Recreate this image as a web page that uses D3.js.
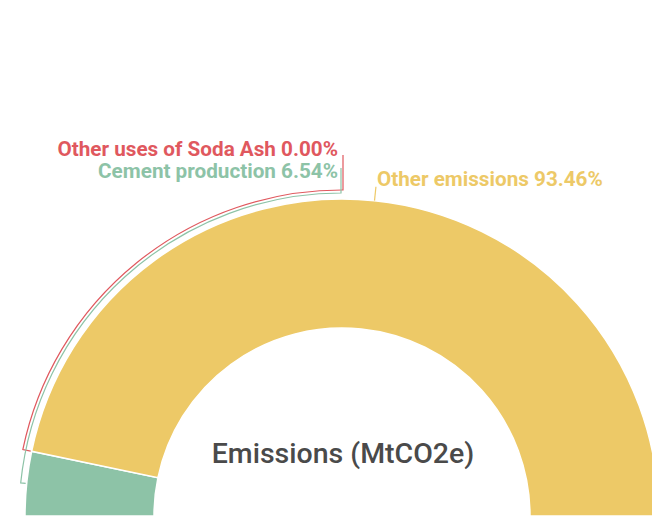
<!DOCTYPE html>
<html>
<head>
<meta charset="utf-8">
<script src="https://cdn.jsdelivr.net/npm/d3@7"></script>
<style>
  html, body { margin: 0; padding: 0; background: #ffffff; }
  svg { display: block; }
  text { font-family: Roboto, "Noto Sans", sans-serif; }
</style>
</head>
<body>
<div id="chart"></div>
<script>
// ---- data ----
const categories = ["Cement production", "Other uses of Soda Ash", "Other emissions"];
const values = [6.54, 0.00, 93.46];
const colors = ["#8dc3a7", "#e0585e", "#edc967"];
const title = "Emissions (MtCO2e)";

// ---- layout ----
const W = 652, H = 518;
const cx = 342, cy = 516;
const rOuter = 317, rInner = 188;

const svg = d3.select("#chart").append("svg")
  .attr("width", W).attr("height", H);

const data = categories.map((c, i) => ({ name: c, value: values[i], color: colors[i] }));

const pie = d3.pie().sort(null).value(d => d.value)
  .startAngle(-Math.PI / 2).endAngle(Math.PI / 2);
const arcs = pie(data);

const arc = d3.arc().innerRadius(rInner).outerRadius(rOuter);

const g = svg.append("g").attr("transform", `translate(${cx},${cy})`);

g.selectAll("path.slice").data(arcs).join("path")
  .attr("class", "slice")
  .attr("d", arc)
  .attr("fill", d => d.data.color)
  .attr("stroke", "#ffffff")
  .attr("stroke-width", d => d.endAngle - d.startAngle > 0 ? 1.5 : 0);

// center title
svg.append("text")
  .attr("x", cx + 1).attr("y", 463)
  .attr("text-anchor", "middle")
  .attr("font-size", 28.5)
  .attr("font-weight", 500)
  .attr("fill", "#4a4a4a")
  .text(title);

const pt = (a, R) => [Math.sin(a) * R, -Math.cos(a) * R];
const fmt = v => v.toFixed(2) + "%";

// bracket-style labels for the left slices (stacked above the top)
const leftLabels = [
  { i: 1, bracketR: rOuter + 9, endX: 1, topY: 155 - cy, textY: 156 - cy },
  { i: 0, bracketR: rOuter + 6, endX: -1, topY: 168 - cy, textY: 178 - cy }
];
leftLabels.forEach(L => {
  const d = arcs[L.i];
  const a = (d.startAngle + d.endAngle) / 2;
  const p0 = pt(a, rOuter + 1);
  const p1 = pt(a, L.bracketR);
  const aEnd = Math.asin(L.endX / L.bracketR);
  const arcPath = d3.path();
  arcPath.moveTo(p0[0], p0[1]);
  arcPath.lineTo(p1[0], p1[1]);
  arcPath.arc(0, 0, L.bracketR, a - Math.PI / 2, aEnd - Math.PI / 2, false);
  arcPath.lineTo(L.endX, L.topY);
  g.append("path")
    .attr("d", arcPath.toString())
    .attr("fill", "none")
    .attr("stroke", d.data.color)
    .attr("stroke-width", 1.2);
  g.append("text")
    .attr("x", -4).attr("y", L.textY)
    .attr("text-anchor", "end")
    .attr("font-size", 20.7)
    .attr("font-weight", 700)
    .attr("fill", d.data.color)
    .text(d.data.name + " " + fmt(d.data.value));
});

// simple radial label for the large slice
{
  const d = arcs[2];
  const a = (d.startAngle + d.endAngle) / 2;
  const p0 = pt(a, rOuter);
  const p1 = pt(a, rOuter + 14);
  g.append("line")
    .attr("x1", p0[0]).attr("y1", p0[1])
    .attr("x2", p1[0]).attr("y2", p1[1])
    .attr("stroke", d.data.color).attr("stroke-width", 1.2);
  g.append("text")
    .attr("x", p1[0] + 1).attr("y", p1[1] - 1)
    .attr("text-anchor", "start")
    .attr("font-size", 20.7)
    .attr("font-weight", 700)
    .attr("fill", d.data.color)
    .text(d.data.name + " " + fmt(d.data.value));
}
</script>
</body>
</html>
